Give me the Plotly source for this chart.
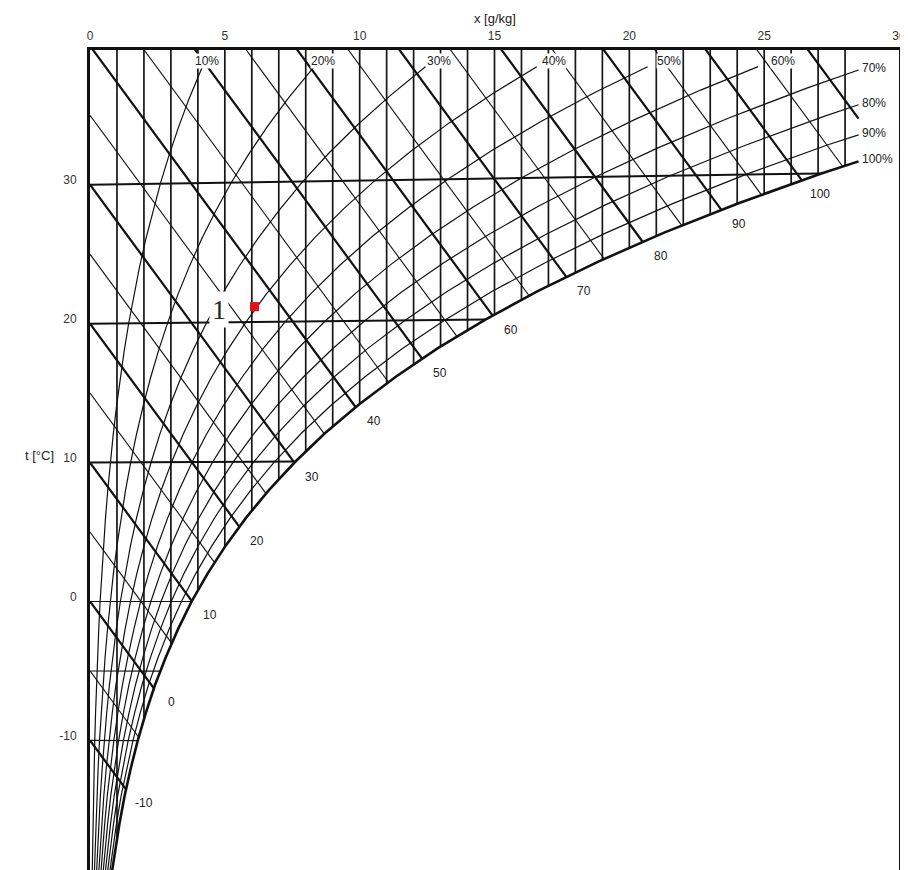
import numpy as np
import plotly.graph_objects as go

# saturation line (100 %): temperature [°C] -> x [g/kg]
T_SAT = list(range(-20, 42, 2))
X_SAT = [0.77, 0.92, 1.09, 1.28, 1.51, 1.77, 2.07, 2.41, 2.81, 3.26,
         3.77, 4.36, 5.03, 5.79, 6.65, 7.62, 8.71, 9.95, 11.34, 12.90,
         14.66, 16.62, 18.83, 21.29, 24.05, 27.12, 30.56, 34.40, 38.68, 43.45,
         48.78]

# line families of the h-x chart
RH_LEVELS = [10, 20, 30, 40, 50, 60, 70, 80, 90, 100]      # %
H_LEVELS = list(range(-10, 115, 5))                         # kJ/kg
H_LABELS = [-10, 0, 10, 20, 30, 40, 50, 60, 70, 80, 90, 100]
X_LINES = list(range(1, 29))                                # g/kg
T_LINES = [30, 20, 10, 0, -5, -10]                          # °C
T_BOLD = [30, 20, 10]

# axis ticks
X_TICKS = [0, 5, 10, 15, 20, 25, 30]
T_TICKS = [-10, 0, 10, 20, 30]
T_TICK_TEXT = ["-10", "0", "10", "20", "30"]

# state point
POINT_X = [6.1]
POINT_T = [21.1]
POINT_NAMES = ["1"]

# chart geometry
M_RATIO = 622.0      # g water / kg air per unit pressure ratio
SKEW = 0.001         # slight rise of the isotherms with x
H_SLOPE = 2.64       # drop of the isenthalps per g/kg
X_END = 28.5
Y_TOP = 38.5
X_RANGE = [0, 30]
Y_RANGE = [-19.33, 39.7]

INK = "#111111"
FONT = "Liberation Sans, Arial, sans-serif"


def chart_y(t, x):
    return t * (1 + SKEW * x)


def clip(xs, ys, xmax, ymax):
    out_x, out_y = [xs[0]], [ys[0]]
    for i in range(1, len(xs)):
        if xs[i] <= xmax and ys[i] <= ymax:
            out_x.append(xs[i])
            out_y.append(ys[i])
            continue
        f = 1.0
        if xs[i] > xmax:
            f = min(f, (xmax - xs[i - 1]) / (xs[i] - xs[i - 1]))
        if ys[i] > ymax:
            f = min(f, (ymax - ys[i - 1]) / (ys[i] - ys[i - 1]))
        out_x.append(xs[i - 1] + f * (xs[i] - xs[i - 1]))
        out_y.append(ys[i - 1] + f * (ys[i] - ys[i - 1]))
        break
    return out_x, out_y


def add_lines(fig, segs, width, color=INK):
    xs, ys = [], []
    for sx, sy in segs:
        xs += list(sx) + [None]
        ys += list(sy) + [None]
    fig.add_trace(go.Scatter(x=xs, y=ys, mode="lines",
                             line=dict(color=color, width=width),
                             hoverinfo="skip", showlegend=False))


t_sat = np.array(T_SAT, dtype=float)
x_sat = np.array(X_SAT, dtype=float)
y_sat = chart_y(t_sat, x_sat)
ratio = x_sat / (M_RATIO + x_sat)

fig = go.Figure()
annotations = []

# constant x lines
vert = []
for k in X_LINES:
    vert.append(([k, k], [Y_RANGE[1], np.interp(k, x_sat, y_sat)]))
add_lines(fig, vert, 1.7, "#161616")

# isotherms
iso_thin, iso_bold = [], []
for t in T_LINES:
    xe = np.interp(t, t_sat, x_sat)
    seg = ([0, xe], [chart_y(t, 0), chart_y(t, xe)])
    (iso_bold if t in T_BOLD else iso_thin).append(seg)
add_lines(fig, iso_thin, 1.1)
add_lines(fig, iso_bold, 2.0)

# isenthalps
h_thin, h_bold = [], []
for h in H_LEVELS:
    gap = y_sat - (h - H_SLOPE * x_sat)
    xe = min(float(np.interp(0, gap, x_sat)), X_END)
    ye = h - H_SLOPE * xe
    seg = ([0, xe], [h, ye])
    (h_bold if h % 10 == 0 else h_thin).append(seg)
    if h in H_LABELS:
        annotations.append(dict(x=xe, y=ye, text=str(h), showarrow=False,
                                xshift=18, yshift=-14,
                                font=dict(size=12, color="#222", family=FONT)))
add_lines(fig, h_thin, 1.1)
add_lines(fig, h_bold, 2.2)

# relative humidity curves
rh_segs = []
for rh in RH_LEVELS:
    phi = rh / 100
    xp = M_RATIO * phi * ratio / (1 - phi * ratio)
    yp = chart_y(t_sat, xp)
    cx, cy = clip(list(xp), list(yp), X_END, Y_TOP)
    if rh < 100:
        rh_segs.append((cx, cy))
    else:
        sat_seg = (cx, cy)
    if cx[-1] < X_END - 1e-6:
        # labels along the top edge drift right of the curve ends
        annotations.append(dict(x=cx[-1], y=cy[-1], text=f"{rh}%", showarrow=False,
                                xanchor="left", xshift=0.4 * rh - 12, yshift=6,
                                bgcolor="white", borderpad=0,
                                font=dict(size=12, color="#222", family=FONT)))
    else:
        annotations.append(dict(x=cx[-1], y=cy[-1], text=f"{rh}%", showarrow=False,
                                xanchor="left", xshift=2, yshift=2,
                                bgcolor="white", borderpad=0,
                                font=dict(size=12, color="#222", family=FONT)))
add_lines(fig, rh_segs, 1.2)
add_lines(fig, [sat_seg], 2.6)

# state point
py = [chart_y(t, x) for t, x in zip(POINT_T, POINT_X)]
fig.add_trace(go.Scatter(x=POINT_X, y=py, mode="markers",
                         marker=dict(symbol="square", size=9, color="#e3121b"),
                         hoverinfo="skip", showlegend=False))
for name, x, y in zip(POINT_NAMES, POINT_X, py):
    annotations.append(dict(x=x, y=y, text=name, showarrow=False,
                            xshift=-36, yshift=-3, bgcolor="white", borderpad=2,
                            font=dict(size=28, color="#2a2a2a",
                                      family="Liberation Serif, serif")))

# axis titles
annotations.append(dict(x=15, xref="x", y=1, yref="paper", text="x [g/kg]",
                        showarrow=False, yanchor="bottom", yshift=22,
                        font=dict(size=13, color="#222", family=FONT)))
annotations.append(dict(x=0, xref="x", y=10.5, yref="y", text="t [°C]",
                        showarrow=False, xanchor="right", xshift=-34,
                        font=dict(size=13, color="#222", family=FONT)))

# the page body adds an 8 px margin, so the figure is 8 px smaller each way
fig.update_layout(
    width=900, height=862,
    margin=dict(l=82, r=9, t=42, b=0),
    plot_bgcolor="white", paper_bgcolor="white",
    annotations=annotations,
    xaxis=dict(range=X_RANGE, side="top", tickvals=X_TICKS, showgrid=False,
               zeroline=False, showline=True, linewidth=2.5, linecolor=INK,
               ticks="", ticklabelstandoff=2, automargin=False,
               tickfont=dict(size=12, color="#333", family=FONT)),
    yaxis=dict(range=Y_RANGE, tickvals=T_TICKS, ticktext=T_TICK_TEXT,
               showgrid=False, zeroline=False, automargin=False,
               showline=True, linewidth=3, linecolor=INK, mirror=True,
               ticks="", ticklabelstandoff=8, ticklabelshift=-5,
               tickfont=dict(size=12, color="#333", family=FONT)),
)

fig.write_html("out.html")
